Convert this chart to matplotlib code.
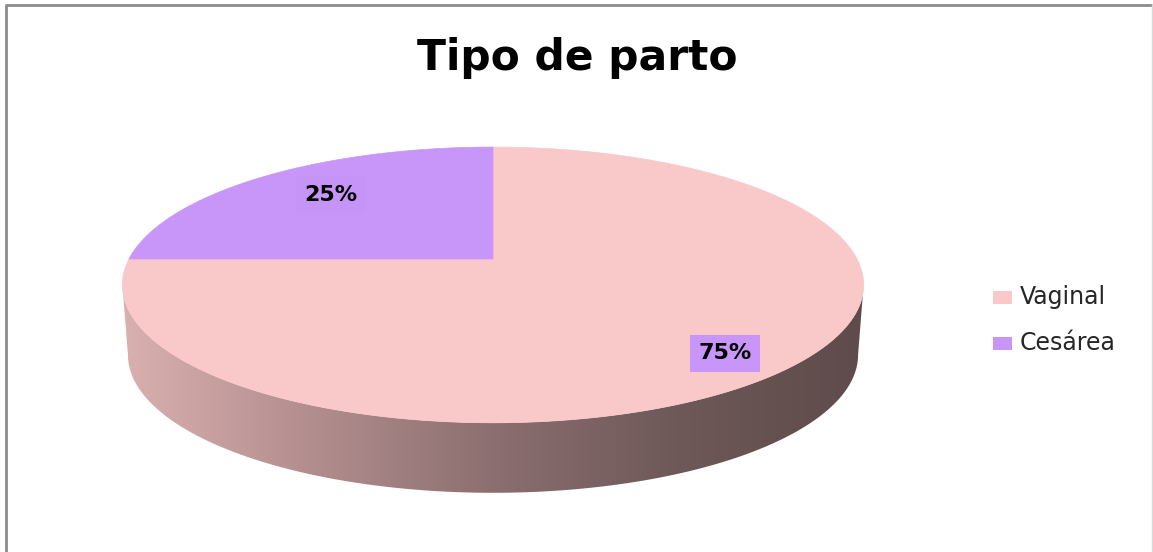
import numpy as np
import matplotlib
matplotlib.use("Agg")
import matplotlib.pyplot as plt
from matplotlib.patches import Polygon, Rectangle
from matplotlib.colors import LinearSegmentedColormap

# ---- data ----
title = "Tipo de parto"
categories = ["Vaginal", "Cesárea"]
values = [75, 25]
labels = ["75%", "25%"]

# ---- style ----
top_colors = ["#f9c8c8", "#c896f9"]
side_cmap = LinearSegmentedColormap.from_list(
    "side", ["#dab0b0", "#b38e8f", "#8c6f70", "#6e5858", "#5f4b4b"])
label_radius = [0.80, 0.70]
label_offset = [(2, 10), (3, -4)]
label_box = ["#c896f9", "#c694f7"]

W, H = 1153, 552
fig = plt.figure(figsize=(W / 100, H / 100), dpi=100)
ax = fig.add_axes([0, 0, 1, 1])
ax.set_xlim(0, W)
ax.set_ylim(H, 0)
ax.axis("off")

# perspective pie geometry (pixel space)
cx, cy = 493.0, 259.0
A, B, k = 364.0, 133.0, 0.188
depth = 70.0
shrink = 0.985


def proj(t, r=1.0, dz=0.0, sx=1.0):
    u = r * np.cos(t)
    v = r * np.sin(t)
    d = 1 + k * v
    return cx + sx * A * u / d, cy - B * v / d + dz


# side (front band)
t0 = np.pi + np.arcsin(k)
t1 = 2 * np.pi - np.arcsin(k)
ts = np.linspace(t0, t1, 300)
xt, yt = proj(ts)
xb, yb = proj(ts[::-1], dz=depth, sx=shrink)
side_pts = np.column_stack([np.concatenate([xt, xb]), np.concatenate([yt, yb])])
side_poly = Polygon(side_pts, closed=True, facecolor="none", edgecolor="none")
ax.add_patch(side_poly)
grad = np.linspace(0, 1, 256).reshape(1, -1)
im = ax.imshow(grad, cmap=side_cmap, aspect="auto",
               extent=(xt.min(), xt.max(), yb.max() + 2, yt.min()), zorder=1)
im.set_clip_path(side_poly)
ax.set_xlim(0, W)
ax.set_ylim(H, 0)

# top face wedges (clockwise from 12 o'clock)
total = float(sum(values))
start = np.pi / 2
for i, v in enumerate(values):
    span = 2 * np.pi * v / total
    tt = np.linspace(start, start - span, 400)
    px, py = proj(tt)
    pts = np.column_stack([np.concatenate([[cx], px]), np.concatenate([[cy], py])])
    ax.add_patch(Polygon(pts, closed=True, facecolor=top_colors[i],
                         edgecolor=top_colors[i], lw=0.5, zorder=2))
    mid = start - span / 2
    lx, ly = proj(mid, r=label_radius[i])
    ax.text(lx + label_offset[i][0], ly + label_offset[i][1], labels[i],
            ha="center", va="center", fontsize=16,
            fontweight="bold", family="DejaVu Sans", color="black", zorder=4,
            bbox=dict(boxstyle="square,pad=0.38", facecolor=label_box[i],
                      edgecolor="none"))
    start -= span

# title
ax.text(577, 70, title, ha="center", va="baseline", fontsize=30.5,
        fontweight="bold", family="DejaVu Sans", color="black")

# legend
for i, c in enumerate(categories):
    yy = 297 + i * 46
    ax.add_patch(Rectangle((993, yy - 6.5), 19, 13, facecolor=top_colors[i],
                           edgecolor="none"))
    ax.text(1020, yy, c, ha="left", va="center", fontsize=17,
            family="DejaVu Sans", color="#262626")

# frame
ax.plot([6, 6], [5, H], color="#8c8c8c", lw=2, solid_capstyle="butt")
ax.plot([5, 1152], [5, 5], color="#8c8c8c", lw=2, solid_capstyle="butt")
ax.plot([1151.5, 1151.5], [5, H], color="#d9d9d9", lw=1)

fig.savefig("out.png", dpi=100)
